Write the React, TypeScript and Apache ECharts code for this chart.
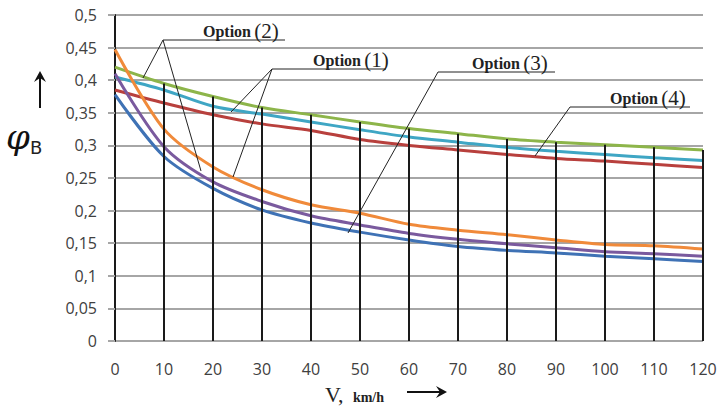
import React, { useEffect, useRef } from "react";
import * as echarts from "echarts";

const speeds = [0, 10, 20, 30, 40, 50, 60, 70, 80, 90, 100, 110, 120];
const greenVals = [0.42, 0.395, 0.375, 0.358, 0.347, 0.336, 0.326, 0.318, 0.31, 0.305, 0.301, 0.297, 0.293];
const cyanVals = [0.405, 0.385, 0.36, 0.348, 0.336, 0.324, 0.313, 0.305, 0.297, 0.291, 0.286, 0.281, 0.277];
const redVals = [0.385, 0.365, 0.347, 0.333, 0.323, 0.309, 0.3, 0.293, 0.286, 0.28, 0.276, 0.271, 0.266];
const orangeVals = [0.447, 0.325, 0.267, 0.232, 0.209, 0.196, 0.179, 0.17, 0.163, 0.155, 0.148, 0.146, 0.141];
const purpleVals = [0.41, 0.298, 0.244, 0.214, 0.192, 0.178, 0.165, 0.156, 0.149, 0.143, 0.137, 0.134, 0.13];
const blueVals = [0.378, 0.283, 0.234, 0.201, 0.181, 0.167, 0.155, 0.145, 0.139, 0.135, 0.13, 0.126, 0.122];

const seriesDefs = [
  { name: "green", color: "#8DB54A", values: greenVals },
  { name: "cyan", color: "#3FA6C4", values: cyanVals },
  { name: "red", color: "#B8403D", values: redVals },
  { name: "orange", color: "#F08A3A", values: orangeVals },
  { name: "purple", color: "#7A5A9E", values: purpleVals },
  { name: "blue", color: "#3F72B5", values: blueVals },
];

const optionLabels = [
  { text: "(2)", tx: 203, ty: 31, ux1: 163, ux2: 285, uy: 40, ends: [[143, 78], [201, 171]] },
  { text: "(1)", tx: 313, ty: 60, ux1: 272, ux2: 386, uy: 69, ends: [[231, 112], [233, 177]] },
  { text: "(3)", tx: 472, ty: 63, ux1: 438, ux2: 555, uy: 72, ends: [[348, 233]] },
  { text: "(4)", tx: 610, ty: 98, ux1: 570, ux2: 690, uy: 107, ends: [[535, 156]] },
];

export default function App() {
  const ref = useRef<HTMLDivElement>(null);
  useEffect(() => {
    document.body.style.margin = "0";
    if (!ref.current) return;
    const chart = echarts.init(ref.current, null, { renderer: "svg" });

    const graphics: any[] = [];
    optionLabels.forEach((o) => {
      graphics.push({
        type: "text",
        x: o.tx,
        y: o.ty,
        style: {
          text: "{a|Option} {b|" + o.text + "}",
          verticalAlign: "middle",
          rich: {
            a: { fontFamily: "Liberation Serif", fontWeight: "bold", fontSize: 16, fill: "#222" },
            b: { fontFamily: "Liberation Serif", fontSize: 21, fill: "#222" },
          },
        },
        z: 100,
      });
      graphics.push({
        type: "line",
        shape: { x1: o.ux1, y1: o.uy, x2: o.ux2, y2: o.uy },
        style: { stroke: "#222", lineWidth: 1 },
        z: 100,
      });
      o.ends.forEach((e) => {
        graphics.push({
          type: "line",
          shape: { x1: o.ux1, y1: o.uy, x2: e[0], y2: e[1] },
          style: { stroke: "#222", lineWidth: 1 },
          z: 100,
        });
      });
    });
    // y axis title
    graphics.push({
      type: "line",
      shape: { x1: 40, y1: 108, x2: 40, y2: 74 },
      style: { stroke: "#111", lineWidth: 2 },
    });
    graphics.push({
      type: "polygon",
      shape: { points: [[34, 82], [40, 71], [46, 82], [40, 78]] },
      style: { fill: "#111" },
    });
    graphics.push({
      type: "text",
      x: 6,
      y: 137,
      style: {
        text: "φ",
        fontFamily: "DejaVu Serif",
        fontStyle: "italic",
        fontSize: 34,
        fill: "#111",
        verticalAlign: "middle",
      },
    });
    graphics.push({
      type: "text",
      x: 30,
      y: 147,
      style: { text: "B", fontFamily: "DejaVu Sans", fontSize: 18, fill: "#222", verticalAlign: "middle" },
    });
    // x axis title
    graphics.push({
      type: "text",
      x: 325,
      y: 394,
      style: {
        text: "{a|V,} {b|km/h}",
        verticalAlign: "middle",
        rich: {
          a: { fontFamily: "Liberation Serif", fontSize: 22, fill: "#222" },
          b: { fontFamily: "Liberation Serif", fontWeight: "bold", fontSize: 14, fill: "#222", padding: [6, 0, 0, 6] },
        },
      },
    });
    graphics.push({
      type: "line",
      shape: { x1: 407, y1: 392, x2: 444, y2: 392 },
      style: { stroke: "#111", lineWidth: 2 },
    });
    graphics.push({
      type: "polygon",
      shape: { points: [[436, 386], [447, 392], [436, 398], [440, 392]] },
      style: { fill: "#111" },
    });

    const dropData = speeds
      .map((s, i) => ({ s, v: greenVals[i] }))
      .filter((d) => d.s > 0)
      .map((d) => [{ coord: [d.s, 0] }, { coord: [d.s, d.v] }]);

    const lineSeries: any[] = seriesDefs.map((d) => ({
      type: "line",
      name: d.name,
      data: speeds.map((s, i) => [s, d.values[i]]),
      smooth: 0.3,
      symbol: "none",
      lineStyle: { color: d.color, width: 3 },
      itemStyle: { color: d.color },
      z: 3,
    }));
    lineSeries.push({
      type: "line",
      name: "drop",
      data: [],
      symbol: "none",
      z: 5,
      markLine: {
        silent: true,
        symbol: ["none", "none"],
        label: { show: false },
        lineStyle: { color: "#1a1a1a", width: 2, type: "solid" },
        data: dropData,
        z: 5,
      },
    });

    chart.setOption({
      animation: false,
      backgroundColor: "#fff",
      grid: { left: 115, right: 18, top: 15, bottom: 68 },
      xAxis: {
        type: "value",
        min: 0,
        max: 120,
        interval: 10,
        axisLine: { show: false },
        axisTick: { show: false },
        splitLine: { show: false },
        axisLabel: {
          margin: 20,
          fontFamily: "Open Sans",
          fontSize: 16,
          color: "#404040",
        },
      },
      yAxis: {
        type: "value",
        min: 0,
        max: 0.5,
        interval: 0.05,
        axisLine: { show: true, lineStyle: { color: "#1a1a1a", width: 2 } },
        axisTick: { show: true, length: 7, lineStyle: { color: "#a6a6a6", width: 2 } },
        splitLine: { show: true, lineStyle: { color: "#a6a6a6", width: 2 } },
        axisLabel: {
          margin: 18,
          fontFamily: "Open Sans",
          fontSize: 16,
          color: "#404040",
          formatter: (v: number) => String(Math.round(v * 100) / 100).replace(".", ","),
        },
      },
      series: lineSeries,
      graphic: graphics,
    });
    return () => chart.dispose();
  }, []);
  return <div ref={ref} style={{ width: 721, height: 409 }} />;
}
